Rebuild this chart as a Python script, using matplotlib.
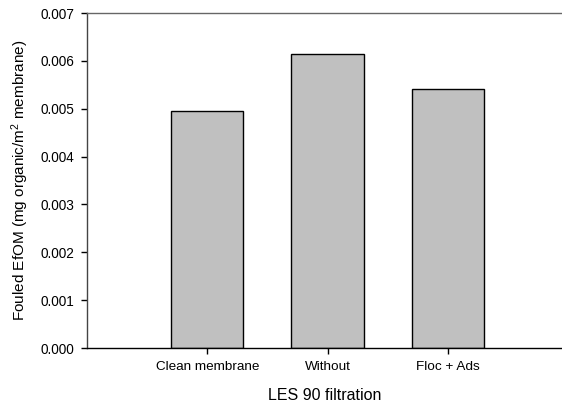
import matplotlib
matplotlib.use("Agg")
import matplotlib.pyplot as plt

categories = ["Clean membrane", "Without", "Floc + Ads"]
fouled_efom = [0.00495, 0.00614, 0.00541]
y_ticks = [0.000, 0.001, 0.002, 0.003, 0.004, 0.005, 0.006, 0.007]

plt.rcParams['font.family'] = ['Liberation Sans', 'DejaVu Sans']
plt.rcParams['mathtext.fontset'] = 'custom'
plt.rcParams['mathtext.rm'] = 'Liberation Sans'
plt.rcParams['mathtext.it'] = 'Liberation Sans:italic'

fig = plt.figure(figsize=(5.62, 4.08), dpi=100)
ax = fig.add_axes([0.1548, 0.147, 0.8452, 0.821])

# posicoes 1..3, com a primeira casa vazia como no original
pos = [i + 1 for i in range(len(categories))]
ax.bar(pos, fouled_efom, width=0.6, color='#c0c0c0', edgecolor='black', linewidth=1.0)

ax.set_xlim(0, 3.95)
ax.set_ylim(0, 0.007)
ax.set_xticks(pos)
ax.set_xticklabels(categories, fontsize=9.7)
ax.set_yticks(y_ticks)
ax.set_yticklabels([f"{v:.3f}" for v in y_ticks], fontsize=9.8)

ax.tick_params(axis='both', direction='out', length=4, width=1, pad=5, colors='black')
ax.spines['right'].set_visible(False)
ax.spines['top'].set_color('#666666')
ax.spines['left'].set_color('#444444')
for s in ax.spines.values():
    s.set_linewidth(1.0)

ax.set_xlabel("LES 90 filtration", fontsize=11.5, labelpad=11)
ax.set_ylabel("Fouled EfOM (mg organic/m$^2$ membrane)", fontsize=11, labelpad=7)

fig.savefig("out.png", dpi=100)
